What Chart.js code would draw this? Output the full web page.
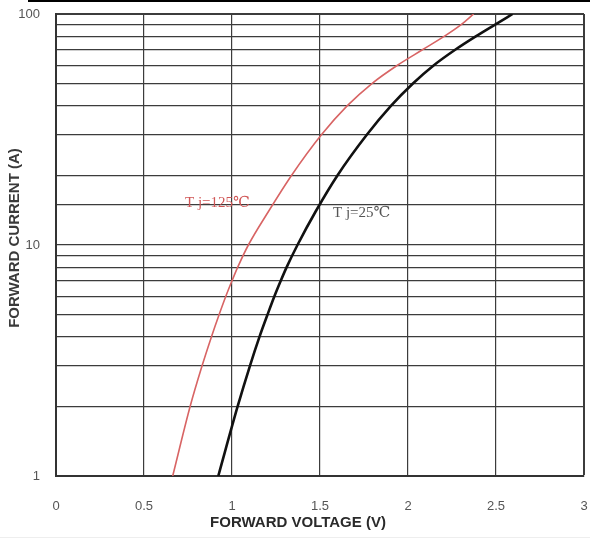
<!DOCTYPE html>
<html><head><meta charset="utf-8">
<script src="https://cdn.jsdelivr.net/npm/chart.js@4/dist/chart.umd.min.js"></script>
<style>html,body{margin:0;padding:0;background:#fff}#wrap{width:590px;height:539px;position:relative}</style>
</head><body><div id="wrap"><canvas id="c" width="590" height="539"></canvas></div>
<script>
// Forward current (A) points at which the voltages were read
const current25 = [1, 2, 3, 4, 5, 6, 7, 8, 10, 14, 20, 30, 40, 50, 60, 70, 80, 90, 100];
const voltage25 = [0.922, 1.032, 1.102, 1.156, 1.202, 1.241, 1.277, 1.31, 1.372, 1.476, 1.599, 1.766, 1.903, 2.028, 2.147, 2.268, 2.385, 2.495, 2.594];
const current125 = [1, 2, 3, 4, 5, 6, 7, 8, 10, 14, 20, 30, 40, 50, 60, 70, 80, 90, 100];
const voltage125 = [0.663, 0.762, 0.83, 0.883, 0.927, 0.965, 1.0, 1.032, 1.093, 1.208, 1.338, 1.508, 1.654, 1.795, 1.94, 2.082, 2.205, 2.302, 2.373];
const yLabelTicks = [1, 10, 100];
const xMin = 0, xMax = 3, xStep = 0.5;
const yMin = 1, yMax = 100;
const xTitle = 'FORWARD VOLTAGE (V)';
const yTitle = 'FORWARD CURRENT (A)';
const curveLabels = ['T j=125\u2103', 'T j=25\u2103'];
const curveLabelV = [0.733, 1.574];
const curveLabelI = [15.2, 13.8];
const curveLabelColors = ['#d05656', '#555555'];

const toPts = (xs, ys) => xs.map((x, i) => ({x: x, y: ys[i]}));
const target = {left: 56, right: 584, top: 14, bottom: 476};

const labelPlugin = {
  id: 'curveLabels',
  afterDatasetsDraw(chart) {
    const ctx = chart.ctx, xs = chart.scales.x, ys = chart.scales.y;
    ctx.save();
    ctx.font = '15px "Liberation Serif", "DejaVu Serif", serif';
    ctx.textBaseline = 'middle';
    ctx.textAlign = 'left';
    curveLabels.forEach((t, i) => {
      ctx.fillStyle = curveLabelColors[i];
      ctx.fillText(t, xs.getPixelForValue(curveLabelV[i]), ys.getPixelForValue(curveLabelI[i]));
    });
    ctx.restore();
  },
  afterDraw(chart) {
    const ctx = chart.ctx;
    ctx.save();
    // axis titles
    ctx.fillStyle = '#2a2a2a';
    ctx.font = 'bold 15px "Liberation Sans", Arial, sans-serif';
    ctx.textAlign = 'center';
    ctx.textBaseline = 'middle';
    ctx.fillText(xTitle, 298, 523);
    ctx.save();
    ctx.translate(15, 238);
    ctx.rotate(-Math.PI / 2);
    ctx.fillStyle = '#3a3a3a';
    ctx.fillText(yTitle, 0, 0);
    ctx.restore();
    // frame decorations of the scanned figure
    ctx.strokeStyle = '#000';
    ctx.lineWidth = 2;
    ctx.beginPath(); ctx.moveTo(28, 1); ctx.lineTo(590, 1); ctx.stroke();
    ctx.strokeStyle = '#eeeeee';
    ctx.lineWidth = 1;
    ctx.beginPath(); ctx.moveTo(0, 537.5); ctx.lineTo(590, 537.5); ctx.stroke();
    ctx.restore();
  }
};

const zeroPad = (s) => { s.paddingLeft = 0; s.paddingRight = 0; s.paddingTop = 0; s.paddingBottom = 0; };
const tickFont = {family: '"Liberation Sans", Arial, sans-serif', size: 13};

const chart = new Chart(document.getElementById('c'), {
  type: 'line',
  data: {
    datasets: [
      {label: 'Tj=125', data: toPts(voltage125, current125), borderColor: '#d86464', borderWidth: 1.6,
       pointRadius: 0, cubicInterpolationMode: 'monotone', fill: false},
      {label: 'Tj=25', data: toPts(voltage25, current25), borderColor: '#111111', borderWidth: 2.6,
       pointRadius: 0, cubicInterpolationMode: 'monotone', fill: false}
    ]
  },
  options: {
    responsive: false,
    animation: false,
    devicePixelRatio: 1,
    layout: {padding: {left: 0, right: 6, top: 14, bottom: 0}},
    plugins: {legend: {display: false}, tooltip: {enabled: false}},
    scales: {
      x: {
        type: 'linear', min: xMin, max: xMax,
        afterFit(s) { s.height = 63; zeroPad(s); },
        ticks: {stepSize: xStep, padding: 23, color: '#555', maxRotation: 0, font: tickFont,
                callback: (v) => String(v)},
        grid: {color: '#3c3c3c', lineWidth: (c) => (c.tick && c.tick.value === xMax ? 2 : 1.2), drawTicks: false},
        border: {display: true, color: '#333', width: 2},
        title: {display: false, text: xTitle}
      },
      y: {
        type: 'logarithmic', min: yMin, max: yMax,
        afterFit(s) { s.width = 56; zeroPad(s); },
        ticks: {autoSkip: false, padding: 16, color: '#555', font: tickFont,
                callback: (v) => (yLabelTicks.includes(v) ? String(v) : '')},
        grid: {color: '#3c3c3c', lineWidth: (c) => (c.tick && c.tick.value === yMax ? 2 : 1.2), drawTicks: false},
        border: {display: true, color: '#333', width: 2},
        title: {display: false, text: yTitle}
      }
    }
  },
  plugins: [labelPlugin]
});

// correct any leftover layout offset so the plot area matches the reference frame
const ca = chart.chartArea;
const p = chart.options.layout.padding;
p.right = Math.max(0, p.right + (ca.right - target.right));
p.top = Math.max(0, p.top - (ca.top - target.top));
p.left = Math.max(0, p.left - (ca.left - target.left));
p.bottom = Math.max(0, p.bottom + (ca.bottom - target.bottom));
chart.update();
</script>
</body></html>
